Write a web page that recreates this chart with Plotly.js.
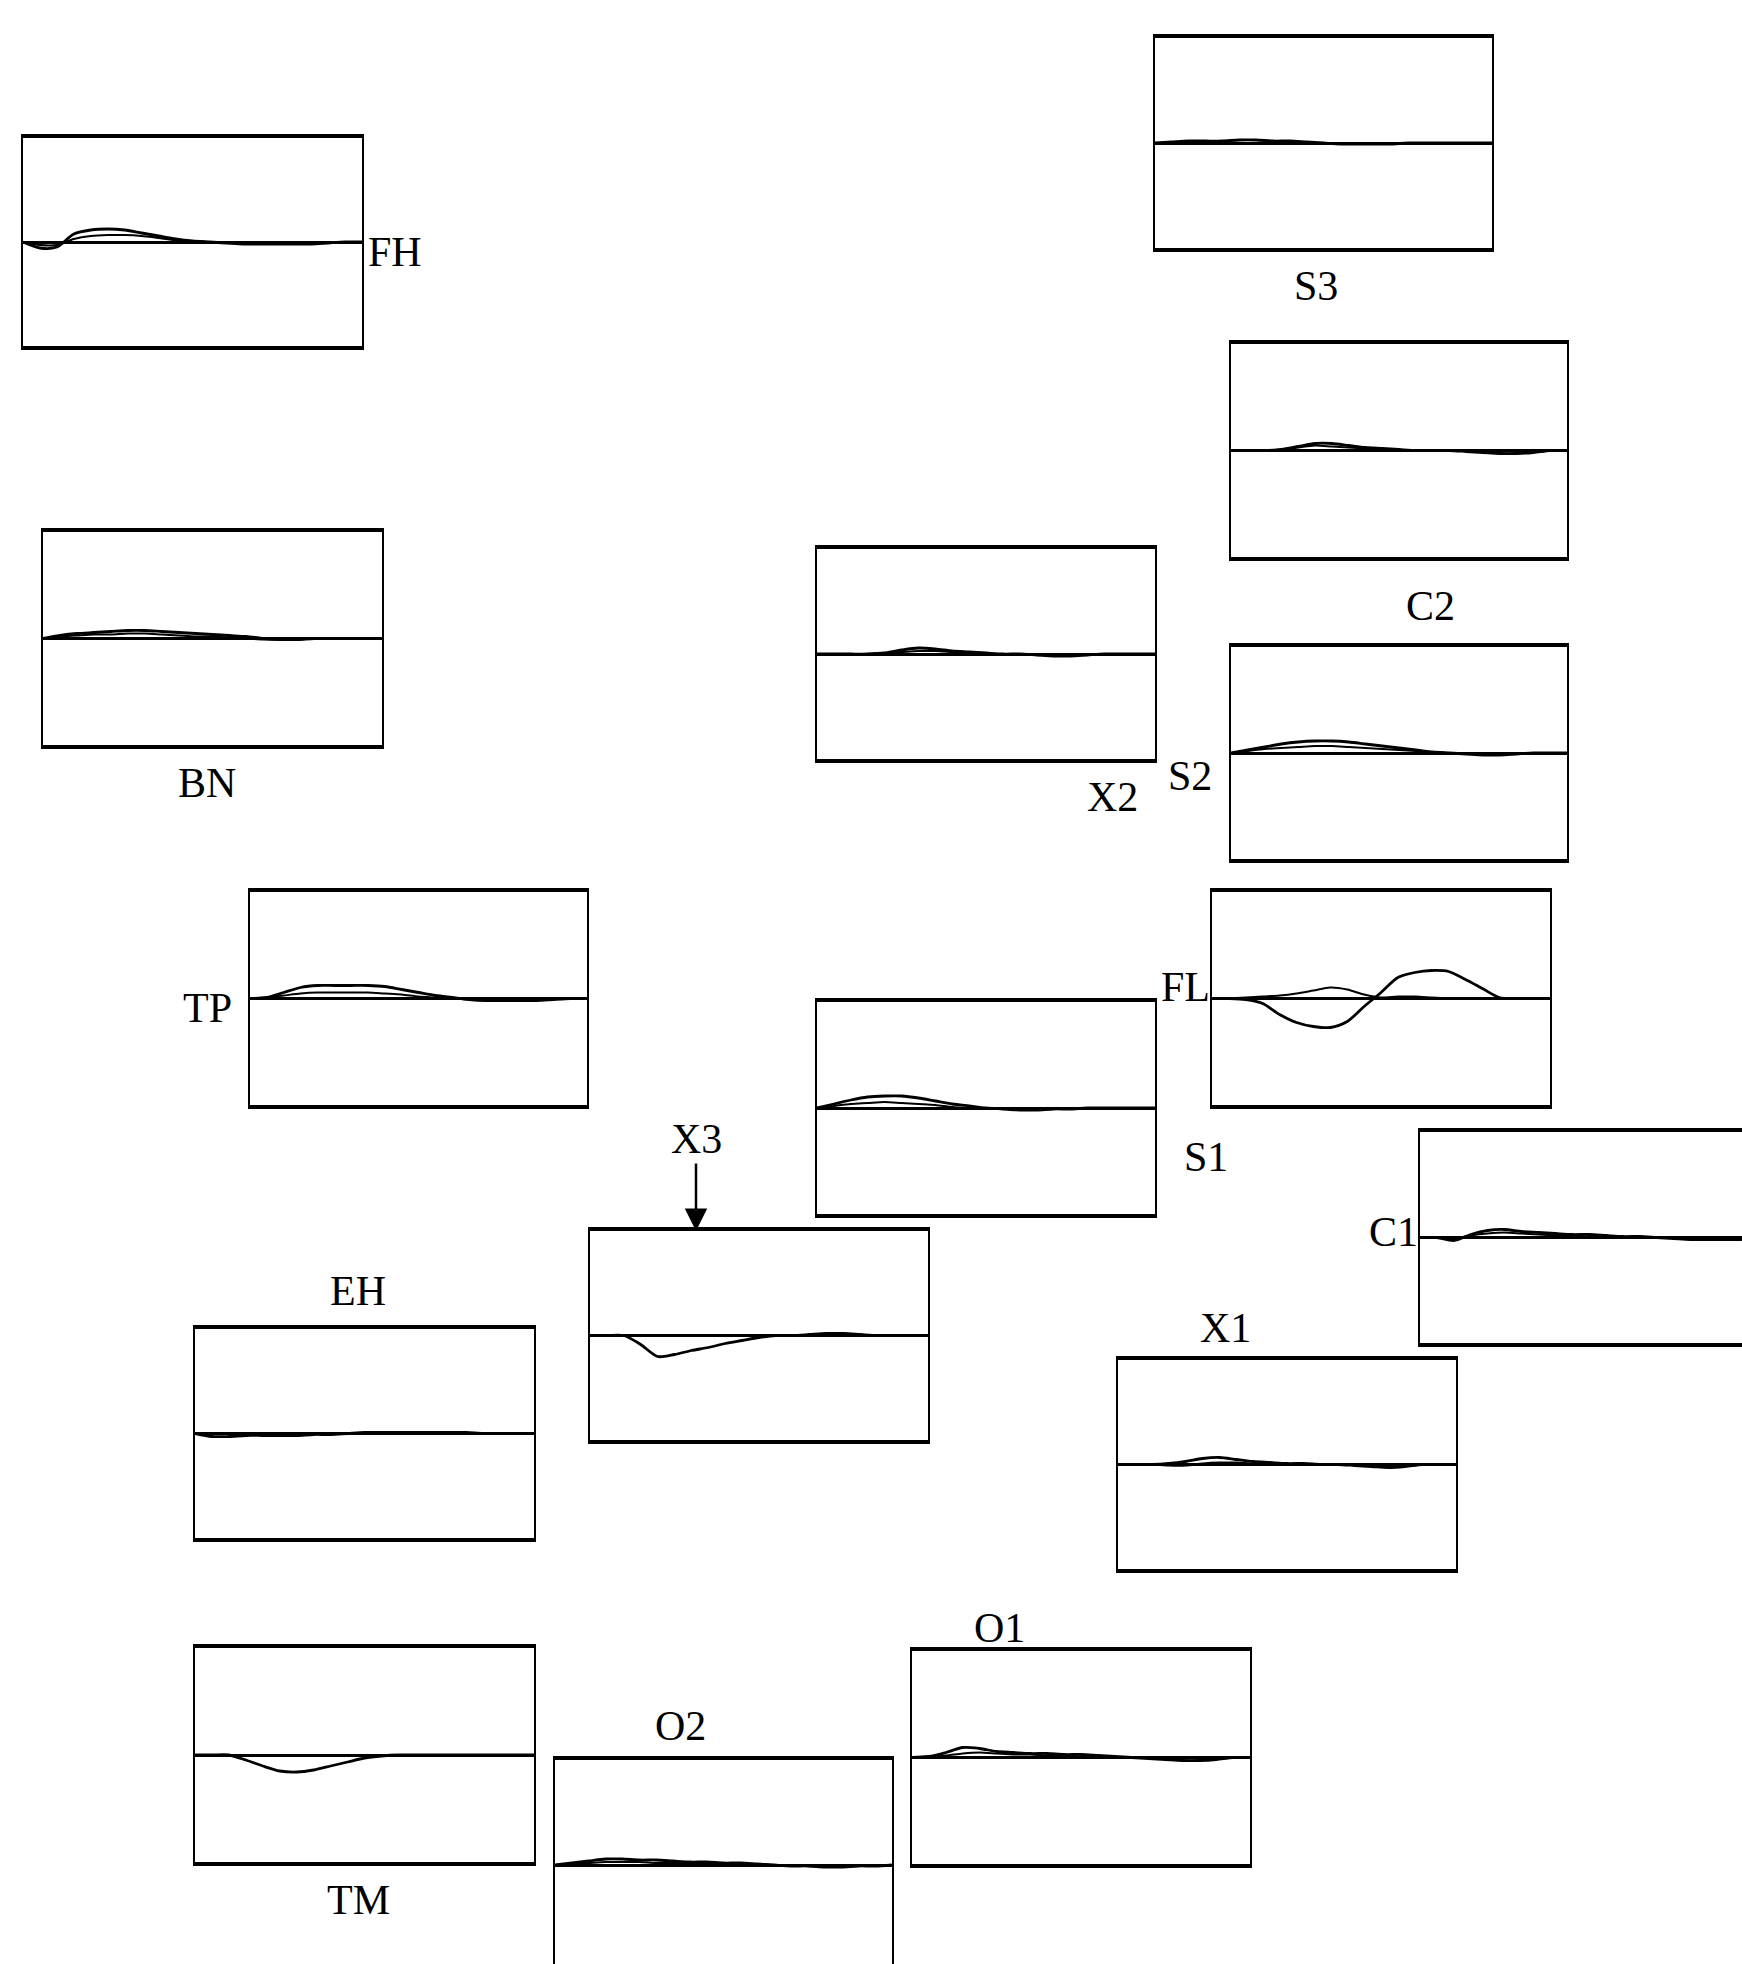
<!DOCTYPE html>
<html>
<head>
<meta charset="utf-8">
<script src="https://cdn.plot.ly/plotly-3.0.1.min.js"></script>
<style>
  html, body { margin: 0; padding: 0; background: #fff; }
  #plot01 { width: 1742px; height: 1964px; }
</style>
</head>
<body>
<div id="plot01"></div>
<script>
// normalised time across each panel
const t = [0, 0.05, 0.1, 0.15, 0.2, 0.25, 0.3, 0.35, 0.4, 0.45, 0.5, 0.55, 0.6, 0.65, 0.7, 0.75, 0.8, 0.85, 0.9, 0.95, 1];

const panelNames = ['FH', 'S3', 'C2', 'BN', 'X2', 'S2', 'TP', 'FL', 'S1', 'C1', 'X3', 'EH', 'X1', 'TM', 'O2', 'O1'];

// responses (same amplitude units in every panel)
const fhA = [0, -6, -5, 8, 12, 13, 12, 9, 6, 3, 1, 0, -1, -2, -2, -2, -2, -2, -1, 0, 0];
const fhB = [0, -3, -3, 3, 6, 7, 7, 6, 4, 2, 1, 0, 0, -1, -1, -1, -1, -1, 0, 0, 0];
const s3A = [0, 1, 2, 2, 2, 3, 3, 2, 2, 1, 0, -1, -1, -1, -1, 0, 0, 0, 0, 0, 0];
const c2A = [0, 0, 0, 1, 4, 7, 7, 5, 3, 2, 1, 0, 0, 0, -1, -2, -3, -3, -2, 0, 0];
const c2B = [0, 0, 0, 1, 3, 5, 4, 3, 2, 1, 0, 0, 0, 0, 0, -1, -1, -1, -1, 0, 0];
const bnA = [0, 3, 5, 6, 7, 8, 8, 7, 6, 5, 4, 3, 2, 0, -1, -1, 0, 0, 0, 0, 0];
const bnB = [0, 2, 3, 4, 4, 5, 5, 4, 3, 2, 2, 1, 0, -1, -1, -1, 0, 0, 0, 0, 0];
const x2A = [0, 0, 0, 0, 1, 4, 6, 5, 3, 2, 1, 0, 0, -1, -2, -2, -1, 0, 0, 0, 0];
const x2B = [0, 0, 0, 0, 1, 2, 3, 3, 2, 1, 0, 0, 0, 0, -1, -1, 0, 0, 0, 0, 0];
const s2A = [0, 3, 6, 9, 11, 12, 12, 11, 9, 7, 5, 3, 1, 0, -1, -2, -2, -1, 0, 0, 0];
const s2B = [0, 2, 4, 5, 6, 7, 7, 6, 5, 4, 3, 2, 1, 0, -1, -1, -1, 0, 0, 0, 0];
const tpA = [0, 1, 6, 11, 13, 13, 13, 13, 12, 9, 6, 3, 1, -1, -2, -2, -2, -2, -1, 0, 0];
const tpB = [0, 1, 3, 5, 6, 6, 6, 6, 5, 4, 2, 1, 0, -1, -1, -1, -1, -1, -1, 0, 0];
const flA = [0, 0, -1, -5, -16, -24, -28, -29, -23, -8, 6, 21, 26, 28, 27, 19, 10, 1, 0, 0, 0];
const flB = [0, 0, 1, 2, 3, 5, 8, 11, 9, 4, 1, 2, 2, 1, 0, 0, 0, 0, 0, 0, 0];
const s1A = [0, 4, 8, 11, 12, 12, 10, 7, 4, 2, 0, -1, -2, -2, -1, -1, 0, 0, 0, 0, 0];
const s1B = [0, 2, 4, 5, 6, 5, 4, 3, 1, 0, 0, -1, -1, -1, -1, 0, 0, 0, 0, 0, 0];
const c1A = [0, 0, -3, 3, 7, 8, 6, 5, 4, 3, 3, 2, 1, 1, 0, -1, -2, -2, -2, -2, -1];
const c1B = [0, 0, -1, 2, 4, 5, 4, 3, 2, 2, 1, 1, 0, 0, 0, 0, -1, -1, -1, -1, 0];
const x3A = [0, 0, 0, -9, -21, -19, -15, -12, -8, -5, -2, 0, 0, 1, 2, 2, 1, 0, 0, 0, 0];
const ehA = [0, -3, -3, -2, -2, -2, -2, -1, -1, 0, 1, 1, 1, 1, 1, 1, 1, 0, 0, 0, 0];
const x1A = [0, 0, 0, 1, 3, 6, 7, 5, 3, 2, 1, 1, 0, 0, -1, -2, -3, -2, 0, 0, 0];
const x1B = [0, 0, 0, -1, -1, 1, 2, 2, 1, 1, 0, 0, 0, 0, 0, -1, -1, -1, 0, 0, 0];
const tmA = [0, 0, 0, -5, -11, -16, -17, -15, -11, -7, -3, -1, 0, 0, 0, 0, 0, 0, 0, 0, 0];
const o2A = [0, 2, 4, 6, 6, 5, 5, 4, 3, 3, 2, 2, 1, 0, -1, -1, -2, -2, -1, -1, 0];
const o2B = [0, 1, 2, 3, 3, 3, 2, 2, 2, 1, 1, 1, 0, 0, 0, -1, -1, -1, -1, 0, 0];
const o1A = [0, 1, 5, 10, 9, 6, 5, 4, 4, 3, 3, 2, 1, 0, -1, -2, -3, -3, -2, 0, 0];
const o1B = [0, 1, 2, 4, 5, 4, 3, 3, 2, 2, 1, 1, 0, 0, 0, -1, -1, -1, -1, 0, 0];

const curvesByName = {
    FH: [fhA, fhB], S3: [s3A], C2: [c2A, c2B], BN: [bnA, bnB],
    X2: [x2A, x2B], S2: [s2A, s2B], TP: [tpA, tpB], FL: [flA, flB],
    S1: [s1A, s1B], C1: [c1A, c1B], X3: [x3A], EH: [ehA],
    X1: [x1A, x1B], TM: [tmA], O2: [o2A, o2B], O1: [o1A, o1B],
};

window.addEventListener('load', () => initPlot());

function initPlot() {
    const W = 1742, H = 1964;

    // panel frames on the page in px: [left, top, right, bottom] (may run past the page edge)
    const frames = {
        FH: [23, 138, 362, 346], S3: [1155, 38, 1492, 248], C2: [1231, 344, 1567, 557],
        BN: [43, 532, 382, 745], X2: [817, 549, 1155, 759], S2: [1231, 647, 1567, 859],
        TP: [250, 892, 587, 1105], FL: [1212, 892, 1550, 1105], S1: [817, 1002, 1155, 1214],
        C1: [1420, 1132, 1758, 1343], X3: [590, 1231, 928, 1440], EH: [195, 1329, 534, 1538],
        X1: [1118, 1360, 1456, 1569], TM: [195, 1648, 534, 1862], O2: [555, 1760, 892, 1970],
        O1: [912, 1651, 1250, 1864],
    };
    // label centres in px
    const labelPos = {
        FH: [366, 252, 'left'], S3: [1316, 286], C2: [1430, 606], BN: [207, 783],
        X2: [1112, 797], S2: [1190, 776], TP: [207, 1008], FL: [1185, 987],
        S1: [1206, 1157], C1: [1393, 1232], EH: [358, 1291], X1: [1225, 1328],
        TM: [358, 1900], O2: [680, 1726], O1: [999, 1628],
    };

    const data = [];
    const layout = {
        width: W,
        height: H,
        margin: { l: 0, r: 0, t: 0, b: 0 },
        paper_bgcolor: 'white',
        plot_bgcolor: 'white',
        showlegend: false,
        font: { family: 'Liberation Serif', color: 'black' },
        annotations: [],
    };

    panelNames.forEach((name, i) => {
        const n = i + 1;
        const xid = n === 1 ? 'x' : 'x' + n;
        const yid = n === 1 ? 'y' : 'y' + n;
        const [L, T, R, B] = frames[name];
        const Rc = Math.min(R, W), Bc = Math.min(B, H);
        const zero = (T + B) / 2;

        curvesByName[name].forEach((vals, k) => {
            data.push({
                type: 'scatter',
                mode: 'lines',
                x: t,
                y: vals,
                xaxis: xid,
                yaxis: yid,
                line: { color: 'black', width: k === 0 ? 2.8 : 2, shape: 'spline', smoothing: 0.8 },
                hoverinfo: 'skip',
            });
        });

        layout['xaxis' + (n === 1 ? '' : n)] = {
            domain: [L / W, Rc / W],
            range: [0, (Rc - L) / (R - L)],
            anchor: yid,
            side: B > H ? 'top' : 'bottom',
            showline: true,
            mirror: B <= H,
            linecolor: 'black',
            linewidth: 4,
            showticklabels: false,
            ticks: '',
            showgrid: false,
            zeroline: false,
            fixedrange: true,
        };
        layout['yaxis' + (n === 1 ? '' : n)] = {
            domain: [1 - Bc / H, 1 - T / H],
            range: [-(Bc - zero), zero - T],
            anchor: xid,
            showline: true,
            mirror: R <= W,
            linecolor: 'black',
            linewidth: 2,
            showticklabels: false,
            ticks: '',
            showgrid: false,
            zeroline: true,
            zerolinecolor: 'black',
            zerolinewidth: 3,
            fixedrange: true,
        };

        if (labelPos[name]) {
            const [lx, ly, anchor] = labelPos[name];
            layout.annotations.push({
                xref: 'paper', yref: 'paper',
                x: lx / W, y: 1 - ly / H,
                xanchor: anchor || 'center', yanchor: 'middle',
                text: name,
                showarrow: false,
                font: { family: 'Liberation Serif', size: 42, color: 'black' },
            });
        }
    });

    // X3 label with its arrow onto the top of the panel
    layout.annotations.push({
        xref: 'paper', yref: 'paper',
        x: 696 / W, y: 1 - 1231 / H,
        text: 'X3',
        showarrow: true,
        ax: 0, ay: -92,
        arrowhead: 2, arrowsize: 1.8, arrowwidth: 2.5, arrowcolor: 'black',
        font: { family: 'Liberation Serif', size: 42, color: 'black' },
    });

    const config = { displayModeBar: false, staticPlot: true };
    Plotly.newPlot('plot01', data, layout, config);
}
</script>
</body>
</html>
